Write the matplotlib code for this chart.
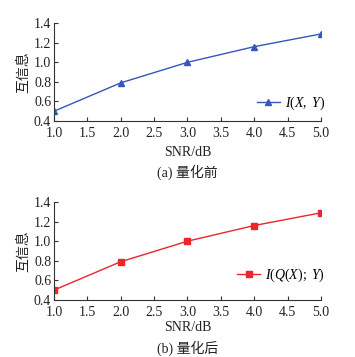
import matplotlib
matplotlib.use("Agg")
import matplotlib.pyplot as plt

snr = [1.0, 2.0, 3.0, 4.0, 5.0]
mi_before = [0.50, 0.79, 1.00, 1.16, 1.29]
mi_after = [0.50, 0.79, 1.00, 1.16, 1.29]
xticks = [1.0, 1.5, 2.0, 2.5, 3.0, 3.5, 4.0, 4.5, 5.0]
yticks = [0.4, 0.6, 0.8, 1.0, 1.2, 1.4]

SERIF = ['Liberation Serif', 'Noto Sans CJK SC']
CJK = ['Noto Sans CJK SC', 'Liberation Serif']
plt.rcParams['font.family'] = SERIF
plt.rcParams['mathtext.fontset'] = 'custom'
plt.rcParams['mathtext.it'] = 'Liberation Serif:italic'
plt.rcParams['mathtext.rm'] = 'Liberation Serif'

fig = plt.figure(figsize=(3.55, 3.57), dpi=100)
ax1 = fig.add_axes([0.152, 0.661, 0.752, 0.274])
ax2 = fig.add_axes([0.152, 0.160, 0.752, 0.274])

panels = [
    (ax1, mi_before, '#3556bb', '^', r'$I(X,\ Y)$', '(a) 量化前', 0.18, -0.317, -0.522),
    (ax2, mi_after, '#e8262c', 's', r'$I(Q(X);\ Y)$', '(b) 量化后', 0.255, -0.285, -0.495),
]
for ax, vals, col, mk, lab, cap, ly, xly, cy in panels:
    ax.plot(snr, vals, color=col, marker=mk, markersize=4, linewidth=1.0, label=lab)
    ax.set_xlim(1.0, 5.0)
    ax.set_ylim(0.4, 1.4)
    ax.set_xticks(xticks)
    ax.set_yticks(yticks)
    ax.set_xticklabels([f'{t:.1f}' for t in xticks])
    ax.set_yticklabels([f'{t:.1f}' for t in yticks])
    for s in ['top', 'right']:
        ax.spines[s].set_visible(False)
    for s in ['left', 'bottom']:
        ax.spines[s].set_color('#333333')
        ax.spines[s].set_linewidth(0.8)
    ax.tick_params(direction='in', length=3, width=0.8, color='#333333',
                   labelsize=10, labelcolor='#222222')
    ax.tick_params(axis='x', pad=4.5)
    ax.tick_params(axis='y', pad=2)
    ax.set_ylabel('互信息', family=CJK, fontsize=10, color='#222222')
    ax.yaxis.set_label_coords(-0.116, 0.5)
    ax.yaxis.label.set_verticalalignment('center')
    ax.set_xlabel('SNR/dB', fontsize=10, color='#222222')
    ax.xaxis.set_label_coords(0.5, xly)
    ax.xaxis.label.set_verticalalignment('center')
    ax.legend(loc='center right', bbox_to_anchor=(1.015, ly), frameon=False,
              fontsize=10, handlelength=1.65, handletextpad=0.35,
              borderaxespad=0, borderpad=0)
    ax.text(0.5, cy, cap, transform=ax.transAxes, ha='center', va='center',
            fontsize=10, family=SERIF, color='#222222')

fig.savefig('out.png', dpi=100)
